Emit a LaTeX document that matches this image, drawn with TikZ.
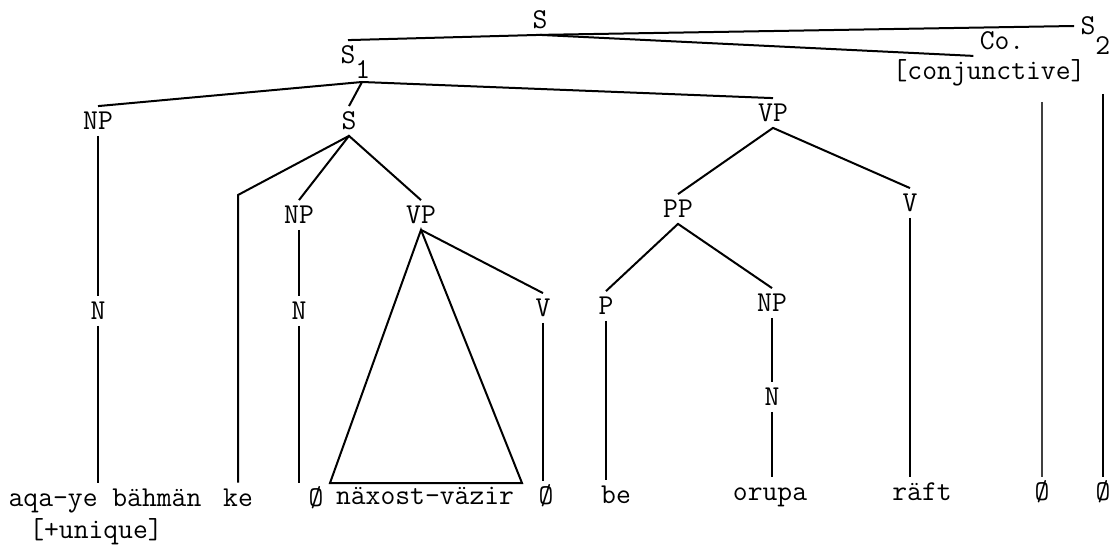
\documentclass[tikz,border=0pt]{standalone}
\usepackage{fontspec}
\usetikzlibrary{calc}
\tikzset{
  catg/.style={inner sep=3pt,text height=8.5pt,text depth=0pt,font=\ttfamily\fontsize{14.4}{16}\selectfont},
  word/.style={catg,anchor=base},
  branch/.style={line width=1pt},
  trace/.style={line width=0.7pt,black!75}
}
\begin{document}
\begin{tikzpicture}[x=0.5pt,y=-0.5pt]
  \useasboundingbox (0,0) rectangle (1118,555);
  % top of the tree
  \node[catg] (S0) at (540,20) {S};
  \node[catg] (S1) at (348,55) {S\rlap{\raisebox{-7.5pt}{1}}};
  \node[catg] (Co) at (1002,41) {Co.};
  \node[catg] (conj) at (989,71) {[conjunctive]};
  \node[catg] (S2) at (1088,26) {S\rlap{\raisebox{-10pt}{2}}};
  \coordinate (S1j) at ([xshift=7pt,yshift=-13.5pt]S1.center);
  % categories
  \node[catg] (NPa) at (98,121) {NP};
  \node[catg] (Sb) at (349,121) {S};
  \node[catg] (VPa) at (773,113) {VP};
  \node[catg] (NPb) at (299,215) {NP};
  \node[catg] (VPb) at (421,215) {VP};
  \node[catg] (PP) at (678,209) {PP};
  \node[catg] (Vc) at (910,203) {V};
  \node[catg] (Na) at (98,311) {N};
  \node[catg] (Nb) at (299,311) {N};
  \node[catg] (Vb) at (543,308) {V};
  \node[catg] (P) at (606,306) {P};
  \node[catg] (NPc) at (772,303) {NP};
  \node[catg] (Nc) at (772,397) {N};
  % words
  \node[word] (wa) at (105,506) {aqa-ye bähmän};
  \node[word] (uq) at (96,538) {[+unique]};
  \node[word] (wke) at (238,506) {ke};
  \node[word] (wz1) at (316,506) {Ø};
  \node[word] (wnv) at (425,504) {näxost-väzir};
  \node[word] (wz2) at (546,504) {Ø};
  \node[word] (wbe) at (616,503) {be};
  \node[word] (wor) at (770,500) {orupa};
  \node[word] (wra) at (922,500) {räft};
  \node[word] (wz3) at (1042,500) {Ø};
  \node[word] (wz4) at (1103,500) {Ø};
  \coordinate (kej) at (238,195);
  \coordinate (tl) at (330,483);
  \coordinate (tr) at (522,483);
  % branches
  \draw[branch] (S1.north) -- (S0.south) -- (Co.south west);
  \draw[branch] (S0.south) -- (S2.west);
  \draw[branch] (NPa.north) -- (S1j) -- (VPa.north);
  \draw[branch] (S1j) -- (Sb.north);
  \draw[branch] (Sb.south) -- (kej) -- (kej |- wke.north);
  \draw[branch] (NPb.north) -- (Sb.south) -- (VPb.north);
  \draw[branch] (NPa.south) -- (Na.north);
  \draw[branch] (Na.south) -- (Na.south |- wa.north);
  \draw[branch] (NPb.south) -- (Nb.north);
  \draw[branch] (Nb.south) -- (Nb.south |- wz1.north);
  \draw[branch] (tl) -- (VPb.south) -- (tr) -- cycle;
  \draw[branch] (VPb.south) -- (Vb.north);
  \draw[branch] (Vb.south) -- (Vb.south |- wz2.north);
  \draw[branch] (PP.north) -- (VPa.south) -- (Vc.north);
  \draw[branch] (P.north) -- (PP.south) -- (NPc.north);
  \draw[branch] (P.south) -- (P.south |- wbe.north);
  \draw[branch] (NPc.south) -- (Nc.north);
  \draw[branch] (Nc.south) -- (Nc.south |- wor.north);
  \draw[branch] (Vc.south) -- (Vc.south |- wra.north);
  \draw[trace] ([yshift=-8pt]conj.south -| wz3.north) -- (wz3.north);
  \draw[branch] ([yshift=-4pt]conj.south -| wz4.north) -- (wz4.north);
\end{tikzpicture}
\end{document}
